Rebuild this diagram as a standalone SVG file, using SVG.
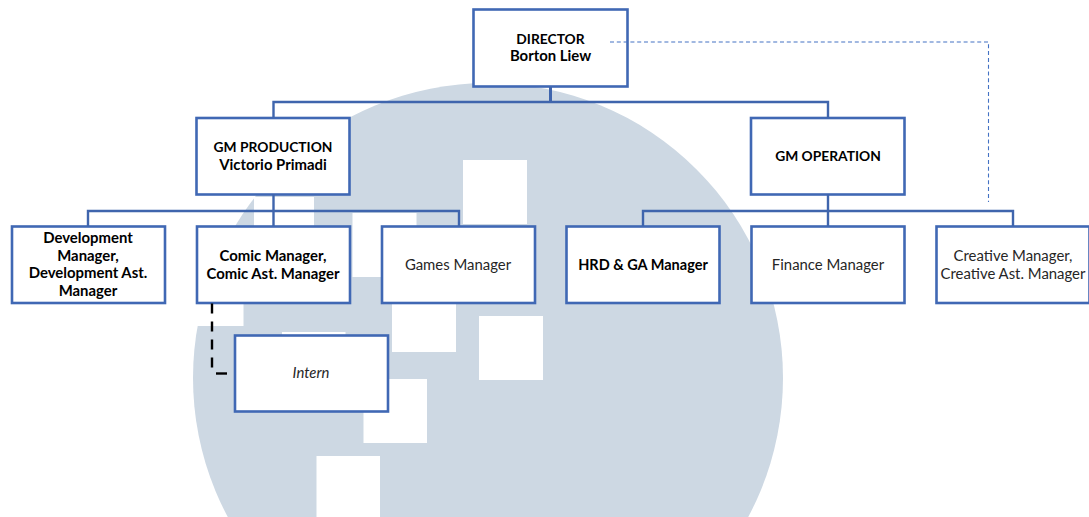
<svg xmlns="http://www.w3.org/2000/svg" width="1089" height="517" viewBox="0 0 1089 517">
<style>
.box{fill:#fff;stroke:#4068b4;stroke-width:2.6}
.wm{fill:#fff}
.c{fill:none;stroke:#3f65ad;stroke-width:2.400}
text{font-family:Lato,"Open Sans","Liberation Sans",sans-serif;font-size:14.9px;fill:#262626;text-anchor:middle}
.b{font-weight:700;fill:#000}
.caps{font-size:13.8px}
</style>
<rect width="1089" height="517" fill="#fff"/>
<g id="watermark">
<circle cx="488" cy="378" r="295" fill="#cdd8e3"/>
<rect class="wm" x="463" y="160" width="64" height="64"/>
<rect class="wm" x="352.500" y="213" width="64" height="64"/>
<rect class="wm" x="254" y="197" width="60" height="64"/>
<rect class="wm" x="180" y="262" width="63.500" height="64"/>
<rect class="wm" x="282" y="332" width="63.500" height="64"/>
<rect class="wm" x="392" y="288" width="64" height="64"/>
<rect class="wm" x="479" y="316" width="64" height="64"/>
<rect class="wm" x="363.500" y="379" width="63.500" height="64"/>
<rect class="wm" x="316.500" y="456" width="63.500" height="64"/>
</g>
<g id="director"><rect class="box" x="473.500" y="9.500" width="154" height="77"/><text class="b caps" x="550.500" y="44">DIRECTOR</text><text class="b" x="550.500" y="61">Borton Liew</text></g>
<g id="gm-production"><rect class="box" x="196.500" y="118" width="153" height="76.500"/><text class="b caps" x="273" y="152">GM PRODUCTION</text><text class="b" x="273" y="170">Victorio Primadi</text></g>
<g id="gm-operation"><rect class="box" x="751" y="118" width="153.500" height="76.500"/><text class="b caps" x="828" y="161">GM OPERATION</text></g>
<g id="development-manager"><rect class="box" x="12" y="226.500" width="153" height="76.500"/><text class="b" x="88" y="243">Development</text><text class="b" x="88" y="261">Manager,</text><text class="b" x="88" y="278">Development Ast.</text><text class="b" x="88" y="296">Manager</text></g>
<g id="comic-manager"><rect class="box" x="197" y="226.500" width="153" height="76.500"/><text class="b" x="273" y="261">Comic Manager,</text><text class="b" x="273" y="279">Comic Ast. Manager</text></g>
<g id="games-manager"><rect class="box" x="382" y="226.500" width="153" height="76.500"/><text x="458" y="270">Games Manager</text></g>
<g id="hrd-ga-manager"><rect class="box" x="566.500" y="226.500" width="153" height="76.500"/><text class="b" x="643" y="270" style="font-size:14.5px">HRD &amp; GA Manager</text></g>
<g id="finance-manager"><rect class="box" x="751.500" y="226.500" width="153" height="76.500"/><text x="828" y="270">Finance Manager</text></g>
<g id="creative-manager"><rect class="box" x="936.500" y="226.500" width="153" height="76.500"/><text x="1013" y="261">Creative Manager,</text><text x="1013" y="279">Creative Ast. Manager</text></g>
<g id="intern"><rect class="box" x="235" y="335.500" width="153" height="76"/><text x="311" y="378" font-style="italic">Intern</text></g>
<g id="connectors">
<path class="c" d="M273.500 118V102H828V118M273.500 194V226M88 226V211H459V226M828 194V226M643 226V211H1013V226"/>
<path class="c" style="stroke-width:3" d="M550.500 87V103"/>
<path d="M610 42H988.500V202" fill="none" stroke="#4472c4" stroke-width="1.100" stroke-dasharray="4 2.800"/>
<path d="M212 303.500V370" fill="none" stroke="#000" stroke-width="2.400" stroke-dasharray="10 8"/>
<path d="M216 373.500H227" fill="none" stroke="#000" stroke-width="2.400"/>
</g>
</svg>
